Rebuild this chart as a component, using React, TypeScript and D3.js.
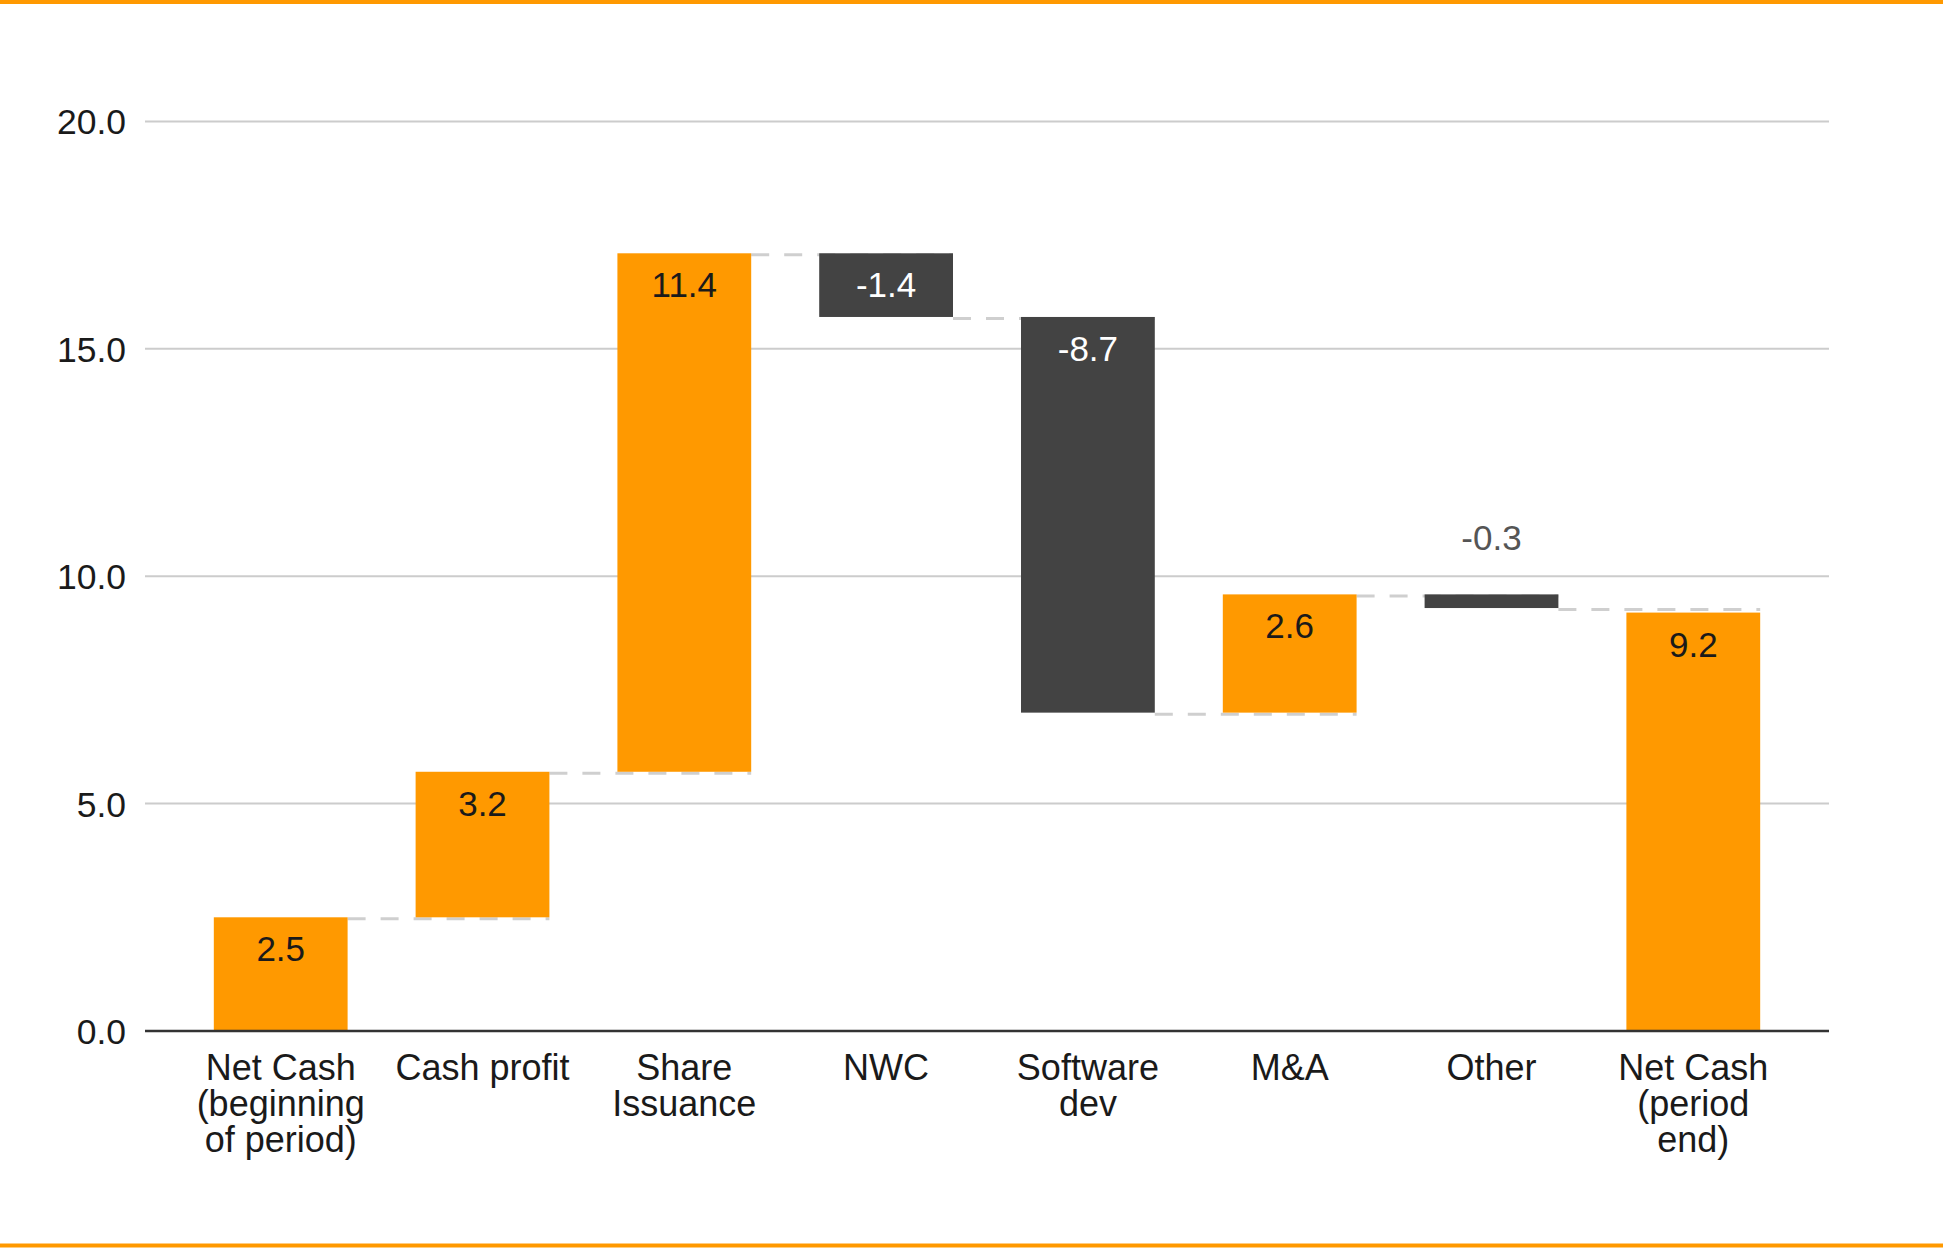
import React from "react";
import * as d3 from "d3";

const categories = [
  "Net Cash\n(beginning\nof period)",
  "Cash profit",
  "Share\nIssuance",
  "NWC",
  "Software\ndev",
  "M&A",
  "Other",
  "Net Cash\n(period\nend)",
];
const values = [2.5, 3.2, 11.4, -1.4, -8.7, 2.6, -0.3, 9.2];
const kinds = ["total", "delta", "delta", "delta", "delta", "delta", "delta", "total"];
const yTicks = [0, 5, 10, 15, 20];
const tickLabels = ["0.0", "5.0", "10.0", "15.0", "20.0"];

const W = 1943;
const H = 1248;
const ORANGE = "#FF9900";
const DARK = "#434343";
const FONT = "'Liberation Sans', Arial, Helvetica, sans-serif";

export default function App() {
  const x = d3
    .scaleBand<string>()
    .domain(categories)
    .range([145, 1829])
    .paddingInner(0.337)
    .paddingOuter(0.341);
  const y = d3.scaleLinear().domain([0, 20]).range([1031, 121.4]);

  let running = 0;
  const bars = categories.map((c, i) => {
    const v = values[i];
    let start: number, end: number;
    if (kinds[i] === "total") {
      start = 0;
      end = v;
    } else {
      start = running;
      end = running + v;
    }
    running = end;
    return { c, v, start, end, kind: kinds[i] };
  });

  const bw = x.bandwidth();

  return (
    <svg
      width={W}
      height={H}
      style={{ position: "absolute", left: 0, top: 0, display: "block", background: "#fff" }}
    >
      <rect x={0} y={0} width={W} height={H} fill="#fff" />
      <line x1={0} x2={W} y1={2} y2={2} stroke={ORANGE} strokeWidth={4} />
      <line x1={0} x2={W} y1={1245.5} y2={1245.5} stroke={ORANGE} strokeWidth={4} />

      {yTicks.map((t, i) => (
        <g key={t}>
          {t !== 0 && (
            <line x1={145} x2={1829} y1={y(t)} y2={y(t)} stroke="#cccccc" strokeWidth={2} />
          )}
          <text
            x={126}
            y={y(t) + 13}
            textAnchor="end"
            fontFamily={FONT}
            fontSize={35.5}
            fill="#1a1a1a"
          >
            {tickLabels[i]}
          </text>
        </g>
      ))}

      {bars.map((b, i) => {
        if (i === bars.length - 1) return null;
        const nb = bars[i + 1];
        const level = b.end;
        const x1 = (x(b.c) as number) + bw;
        const x2 = (x(nb.c) as number) + bw;
        return (
          <line
            key={"c" + i}
            x1={x1}
            x2={x2}
            y1={y(level) + 1.5}
            y2={y(level) + 1.5}
            stroke="#cfcfcf"
            strokeWidth={3}
            strokeDasharray="18 15"
          />
        );
      })}

      {bars.map((b) => {
        const top = Math.max(b.start, b.end);
        const bot = Math.min(b.start, b.end);
        const color = b.v < 0 ? DARK : ORANGE;
        return (
          <rect
            key={"b" + b.c}
            x={x(b.c)}
            y={y(top)}
            width={bw}
            height={y(bot) - y(top)}
            fill={color}
          />
        );
      })}

      <line x1={145} x2={1829} y1={y(0)} y2={y(0)} stroke="#333" strokeWidth={2.5} />

      {bars.map((b) => {
        const top = Math.max(b.start, b.end);
        const bot = Math.min(b.start, b.end);
        const hpx = y(bot) - y(top);
        const cx = (x(b.c) as number) + bw / 2;
        const inside = hpx > 50;
        const fill = !inside ? "#555" : b.v < 0 ? "#ffffff" : "#1a1a1a";
        const ty = inside ? y(top) + 44 : y(top) - 44;
        return (
          <text
            key={"l" + b.c}
            x={cx}
            y={ty}
            textAnchor="middle"
            fontFamily={FONT}
            fontSize={35}
            fill={fill}
          >
            {b.v.toFixed(1)}
          </text>
        );
      })}

      {bars.map((b) => {
        const cx = (x(b.c) as number) + bw / 2;
        const lines = b.c.split("\n");
        return (
          <text
            key={"x" + b.c}
            x={cx}
            y={1080}
            textAnchor="middle"
            fontFamily={FONT}
            fontSize={36}
            fill="#1a1a1a"
          >
            {lines.map((ln, j) => (
              <tspan key={j} x={cx} y={1080 + j * 36}>
                {ln}
              </tspan>
            ))}
          </text>
        );
      })}
    </svg>
  );
}
